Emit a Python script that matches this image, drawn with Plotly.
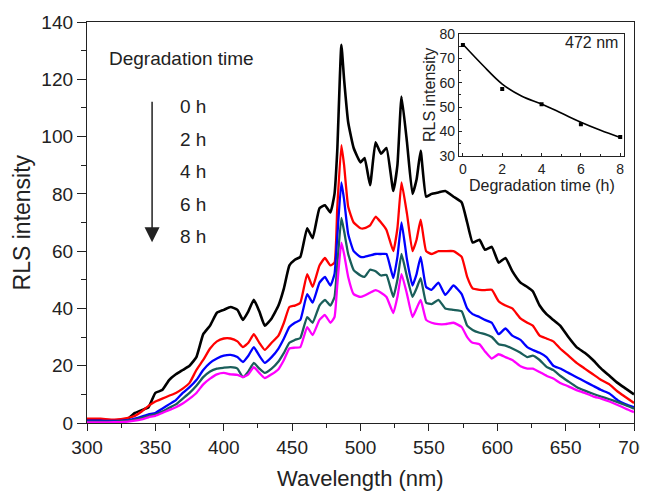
import plotly.graph_objects as go

wavelength = [300, 310, 320, 330, 335, 340, 345, 350, 355, 360, 365, 370, 375, 380, 385, 390, 395,
              400, 405, 410, 414, 418, 422, 426, 430, 435, 440, 444, 448, 452, 456, 461, 465, 470,
              474, 478, 481, 483, 486, 488, 491, 495, 500, 503, 507, 511, 515, 519, 524, 527, 530,
              534, 538, 541, 544, 548, 552, 557, 562, 568, 574, 578, 582, 587, 591, 596, 601, 606,
              611, 617, 622, 626, 631, 636, 641, 646, 652, 658, 664, 670, 676, 682, 688, 694, 700]

rls_0h = [1.0, 1.0, 0.8, 1.5, 3.5, 4.5, 5.5, 10.5, 11.5, 15, 17, 18.5, 20, 23, 31, 34, 38.5,
          39.5, 40.5, 39.5, 36, 39, 43, 39, 34, 36.5, 41, 47, 55, 57, 58, 68, 64.5, 75,
          76, 73.5, 80, 95, 132, 120, 105, 96, 91, 92.5, 83, 98, 94, 96, 81, 90, 114,
          98, 80, 85, 95, 79, 80, 80.5, 81, 79, 77, 70, 63, 64, 60.5, 61.5, 56, 57.6,
          53, 49, 47.5, 46, 41, 38, 36, 34, 30, 26.5, 24.5, 22, 19, 16.5, 14, 12, 10]

rls_2h = [1.5, 1.5, 1.2, 1.8, 2.5, 4, 6, 7.5, 8.5, 9.5, 10.5, 12, 14, 18.5, 22, 26, 28.5,
          29.5, 29.5, 28.5, 26.5, 28, 31, 28, 25.5, 28, 30.5, 35, 40.5, 41, 42, 52, 47.5, 55,
          57.6, 55, 56, 75, 97, 90, 75.5, 70, 68, 68, 69, 72, 70, 67.4, 60, 68, 84,
          73, 60, 64, 71, 60, 59, 60, 60, 60, 58, 51, 47, 46.5, 46.4, 46.5, 42.5, 41,
          40, 36.5, 35, 34, 30.5, 29.5, 28.5, 26, 23.5, 21, 19, 17, 15, 13.5, 11, 9, 7]

rls_4h = [0.8, 0.8, 0.7, 1.0, 1.5, 2.2, 3, 3.5, 5, 6.5, 8, 10.5, 12.5, 15, 18.5, 21, 22.5,
          23.5, 23.8, 23, 21.3, 23.5, 26.5, 23.5, 21, 23, 26, 29.5, 33.5, 35, 36, 45, 42, 49,
          51, 48, 52, 65, 84, 78, 66, 60, 58, 58, 58.5, 59, 59, 59, 50.6, 58, 70,
          57, 48, 52, 58, 47.5, 46.5, 49, 44.7, 48, 45, 40, 38, 37, 36, 35, 31, 33,
          30.5, 29, 26.5, 25.5, 24.5, 23, 20, 19, 17.5, 16, 14.5, 13, 11.5, 10.3, 8, 6.5, 5.5]

rls_6h = [0.5, 0.5, 0.5, 0.8, 1.2, 1.8, 2.5, 3, 4, 5.3, 6.5, 8.5, 10.5, 13, 16, 18, 19,
          19.3, 19.5, 19, 16, 18, 21, 19, 17.5, 19, 21.5, 24.5, 28, 29, 29.7, 37, 35, 41,
          43, 41, 44, 55, 71.6, 67, 59, 53.4, 51.5, 51, 53.5, 53, 51.5, 51.7, 44, 50, 59,
          51, 44, 47, 50.6, 42, 41.5, 43, 40, 39.5, 39, 34, 32.5, 31.5, 31, 30, 27.5, 27,
          26, 24.5, 23, 23.5, 22, 19.6, 18.5, 16.5, 14.5, 12.6, 11.3, 10.2, 9.2, 8.3, 7.3, 6.2, 5]

rls_8h = [0.2, 0.2, 0.3, 0.5, 0.8, 1.3, 2, 2.5, 3.5, 4.5, 5.5, 6.8, 8.5, 10.5, 13.5, 15.5, 17,
          17.5, 17, 16.8, 16, 17, 19.5, 17.5, 15.7, 17, 18.8, 22, 26, 26.3, 26.5, 33.5, 30.7, 36,
          37.7, 35, 37, 48, 63, 59, 51, 45, 44, 44.5, 45.5, 46.4, 45.5, 44, 38.4, 44, 52,
          45, 37, 40, 43, 36, 35, 34.5, 34.5, 35, 33.5, 30, 28, 27.5, 25, 22.5, 24, 23,
          22, 19.8, 19, 19, 17.8, 16.5, 15.5, 14, 12.8, 11.5, 10.5, 9.3, 8.5, 7.5, 6.3, 5, 3.8]

series_names = ["0 h", "2 h", "4 h", "6 h", "8 h"]
series_colors = ["#000000", "#ff0000", "#0000ff", "#1a5e5a", "#ff00ff"]
series_widths = [2.6, 2.3, 2.3, 2.3, 2.3]
series_values = [rls_0h, rls_2h, rls_4h, rls_6h, rls_8h]

# inset data
inset_time = [0, 2, 4, 6, 8]
inset_rls = [75.5, 57.5, 51.2, 43.0, 37.8]
fit_time = [0, 1, 2, 3, 4, 5, 6, 7, 8]
fit_rls = [75.8, 67.3, 59.5, 54.5, 51.3, 47.6, 43.8, 40.5, 37.6]

FONT = "Liberation Sans, Arial, sans-serif"
TXT = "#222222"
fig = go.Figure()

for name, color, w, vals in zip(series_names, series_colors, series_widths, series_values):
    fig.add_trace(go.Scatter(x=wavelength, y=vals, mode="lines", name=name,
                             line=dict(color=color, width=w, shape="spline", smoothing=0.4),
                             showlegend=False))

fig.add_trace(go.Scatter(x=fit_time, y=fit_rls, mode="lines", xaxis="x2", yaxis="y2",
                         line=dict(color="black", width=1.6, shape="spline"), showlegend=False))
fig.add_trace(go.Scatter(x=inset_time, y=inset_rls, mode="markers", xaxis="x2", yaxis="y2",
                         marker=dict(symbol="square", size=4, color="black"), showlegend=False))

main_axis = dict(showgrid=False, zeroline=False, showline=True, linecolor=TXT, automargin=False,
                 linewidth=1.3, mirror=True, ticks="outside", tickcolor=TXT, tickwidth=1.3,
                 ticklabeloverflow="allow",
                 tickfont=dict(family=FONT, size=19, color=TXT))
inset_axis = dict(showgrid=False, zeroline=False, showline=True, linecolor=TXT, automargin=False,
                  linewidth=1.2, mirror=True, ticks="inside", tickcolor=TXT, ticklen=3,
                  tickfont=dict(family=FONT, size=14, color=TXT))

# page body adds an 8 px offset, so the figure is 640x485 with margins shifted accordingly
fig.update_layout(
    width=640, height=485,
    margin=dict(l=79, r=14, t=14, b=70),
    paper_bgcolor="white", plot_bgcolor="white",
    xaxis=dict(range=[300, 700], tickvals=[300, 350, 400, 450, 500, 550, 600, 650, 700],
               ticklen=7,
               minor=dict(ticks="outside", ticklen=4, tickcolor=TXT, dtick=25, tick0=300),
               **main_axis),
    yaxis=dict(range=[0, 140], tickvals=[0, 20, 40, 60, 80, 100, 120, 140],
               ticklen=9,
               minor=dict(ticks="outside", ticklen=5, tickcolor=TXT, dtick=10, tick0=0),
               **main_axis),
    xaxis2=dict(domain=[0.680, 0.982], anchor="y2", range=[-0.2, 8.2],
                tickvals=[0, 2, 4, 6, 8],
                minor=dict(ticks="inside", ticklen=2, tickcolor=TXT, dtick=1, tick0=0),
                **inset_axis),
    yaxis2=dict(domain=[0.666, 0.970], anchor="x2", range=[30, 80],
                tickvals=[30, 40, 50, 60, 70, 80],
                minor=dict(ticks="inside", ticklen=2, tickcolor=TXT, dtick=5, tick0=30),
                **inset_axis),
)

annots = [
    dict(text="Wavelength (nm)", x=0.5, y=-0.138, xanchor="center", yanchor="middle",
         font=dict(family=FONT, size=22, color=TXT)),
    dict(text="RLS intensity", x=-0.119, y=0.50, xanchor="center", yanchor="middle",
         textangle=-90, font=dict(family=FONT, size=23, color=TXT)),
    dict(text="Degradation time (h)", x=0.831, y=0.593, xanchor="center", yanchor="middle",
         font=dict(family=FONT, size=16, color=TXT)),
    dict(text="RLS intensity", x=0.627, y=0.818, xanchor="center", yanchor="middle",
         textangle=-90, font=dict(family=FONT, size=16, color=TXT)),
    dict(text="Degradation time", x=0.036, y=0.910, xanchor="left", yanchor="middle",
         font=dict(family=FONT, size=19, color=TXT)),
    dict(text="472 nm", x=0.974, y=0.948, xanchor="right", yanchor="middle",
         font=dict(family=FONT, size=16, color=TXT)),
]
label_y = [0.790, 0.708, 0.626, 0.546, 0.466]
for name, yy in zip(series_names, label_y):
    annots.append(dict(text=name, x=0.166, y=yy, xanchor="left", yanchor="middle",
                       font=dict(family=FONT, size=19, color=TXT)))
for a in annots:
    a.update(xref="paper", yref="paper", showarrow=False)

annots.append(dict(x=0.119, y=0.451, ax=0.119, ay=0.805, xref="x domain", yref="y domain",
                   axref="x domain", ayref="y domain", showarrow=True, arrowhead=2, arrowsize=2.0,
                   arrowwidth=1.5, arrowcolor=TXT, text=""))
fig.update_layout(annotations=annots)

fig.write_html("out.html")
